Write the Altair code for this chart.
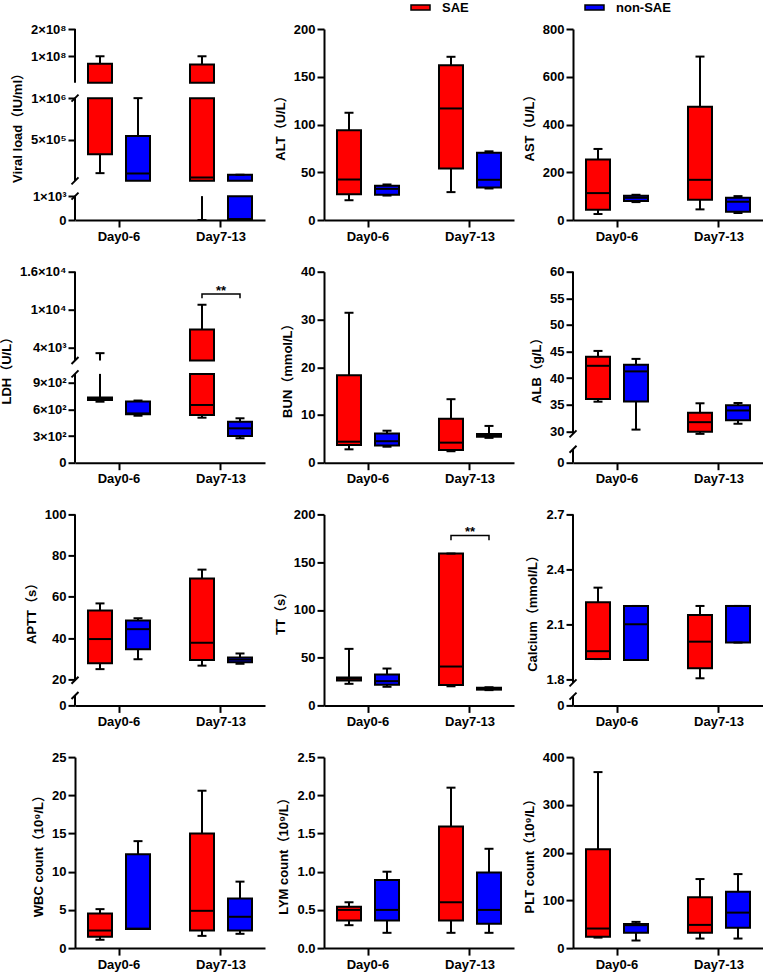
import altair as alt
import pandas as pd

# ---------------- data ----------------
days = ["Day0-6", "Day7-13"]
groups = ["SAE", "non-SAE"]
box_day = ["Day0-6", "Day0-6", "Day7-13", "Day7-13"]
box_group = ["SAE", "non-SAE", "SAE", "non-SAE"]

viral_min = [1.04e5, 5e3, 0, 0]
viral_q1 = [3.3e5, 1.25e4, 1.25e4, 0]
viral_med = [1.5e6, 1.0e5, 5.2e4, 40]
viral_q3 = [7.3e7, 5.48e5, 7.0e7, 8.5e4]
viral_max = [1e8, 1e6, 1e8, 8.5e4]

alt_min = [20.7, 25.6, 29.2, 33]
alt_q1 = [27, 26.5, 54, 34]
alt_med = [42.4, 32.6, 116.8, 42.1]
alt_q3 = [94, 35.8, 162, 70.5]
alt_max = [112.3, 37.2, 170.9, 71.9]

ast_min = [25, 75, 44.5, 29.2]
ast_q1 = [43, 79.3, 84.9, 34.8]
ast_med = [112.7, 93, 168.3, 76.5]
ast_q3 = [253, 101.4, 474.6, 93.2]
ast_max = [297.6, 105.6, 684.5, 100]

ldh_min = [687, 529, 507, 275]
ldh_q1 = [705, 545, 537, 300]
ldh_med = [720, 555, 650, 387]
ldh_q3 = [735, 690, 6900, 460]
ldh_max = [3160, 700, 10790, 500]

bun_min = [2.8, 3.35, 2.4, 5.2]
bun_q1 = [3.7, 3.6, 2.65, 5.45]
bun_med = [4.4, 4.5, 4.2, 5.7]
bun_q3 = [18.3, 6.1, 9.2, 6.0]
bun_max = [31.4, 6.7, 13.3, 7.7]

alb_min = [35.55, 30.3, 29.5, 31.4]
alb_q1 = [36.05, 35.6, 29.9, 32.05]
alb_med = [42.3, 41.25, 31.7, 33.9]
alb_q3 = [44.0, 42.5, 33.45, 34.9]
alb_max = [45.1, 43.6, 35.25, 35.3]

aptt_min = [24.9, 29.7, 26.6, 27.5]
aptt_q1 = [27.8, 34.6, 29.3, 28.3]
aptt_med = [39.5, 44.3, 37.7, 29.5]
aptt_q3 = [53.3, 48.5, 68.9, 30.5]
aptt_max = [56.8, 49.6, 73.2, 32.5]

tt_min = [22.6, 19.5, 20, 16]
tt_q1 = [26.1, 21.6, 21.3, 16.5]
tt_med = [27.9, 25.4, 40.7, 17.5]
tt_q3 = [29.2, 32.4, 159, 18.5]
tt_max = [59.2, 38.6, 159, 19]

ca_min = [1.91, 1.905, 1.805, 2.0]
ca_q1 = [1.91, 1.905, 1.86, 2.0]
ca_med = [1.953, 2.10, 2.005, 2.2]
ca_q3 = [2.22, 2.20, 2.15, 2.2]
ca_max = [2.30, 2.20, 2.20, 2.2]

wbc_min = [1.09, 2.5, 1.6, 1.87]
wbc_q1 = [1.48, 2.5, 2.3, 2.3]
wbc_med = [2.3, 2.55, 4.88, 4.1]
wbc_q3 = [4.53, 12.3, 15.0, 6.5]
wbc_max = [5.1, 14.0, 20.6, 8.7]

lym_min = [0.30, 0.2, 0.2, 0.2]
lym_q1 = [0.36, 0.36, 0.36, 0.32]
lym_med = [0.5, 0.5, 0.6, 0.5]
lym_q3 = [0.54, 0.89, 1.59, 0.99]
lym_max = [0.6, 1.0, 2.1, 1.3]

plt_min = [22, 15.9, 20, 20]
plt_q1 = [23.6, 32, 32, 42.4]
plt_med = [41, 48, 48.6, 74.3]
plt_q3 = [207.2, 50.7, 106.4, 118]
plt_max = [368.6, 54.9, 144.6, 155]

# ---------------- style ----------------
PW, PH = 190, 191
FONT = "Liberation Sans"
TFONT = "Liberation Sans, Noto Sans CJK SC"
COLORS = ["#FF0000", "#0000FF"]

panels = [
    dict(title="Viral load（IU/ml）", mn=viral_min, q1=viral_q1, md=viral_med, q3=viral_q3, mx=viral_max,
         domain=[0, 1e3, 1.2e4, 1e6, 2.5e6, 2e8], fracs=[0, 0.125, 0.205, 0.638, 0.718, 1.0],
         segments=[(0, 1e3), (1.2e4, 1e6), (2.5e6, 2e8)], slashes=[1e3, 1.2e4, 1e6],
         ticks=[0, 1e3, 5e5, 1e6, 1e8, 2e8], labels=["0", "1×10³", "5×10⁵", "1×10⁶", "1×10⁸", "2×10⁸"]),
    dict(title="ALT（U/L）", mn=alt_min, q1=alt_q1, md=alt_med, q3=alt_q3, mx=alt_max,
         domain=[0, 200], fracs=[0, 1], ticks=[0, 50, 100, 150, 200]),
    dict(title="AST（U/L）", mn=ast_min, q1=ast_q1, md=ast_med, q3=ast_q3, mx=ast_max,
         domain=[0, 800], fracs=[0, 1], ticks=[0, 200, 400, 600, 800]),
    dict(title="LDH（U/L）", mn=ldh_min, q1=ldh_q1, md=ldh_med, q3=ldh_q3, mx=ldh_max,
         domain=[0, 1000, 2000, 16000], fracs=[0, 0.465, 0.535, 1.0],
         segments=[(0, 1000), (2000, 16000)], slashes=[1000, 2000],
         ticks=[0, 300, 600, 900, 4000, 10000, 16000],
         labels=["0", "3×10²", "6×10²", "9×10²", "4×10³", "1×10⁴", "1.6×10⁴"],
         bracket=(11800, 12500)),
    dict(title="BUN（mmol/L）", mn=bun_min, q1=bun_q1, md=bun_med, q3=bun_q3, mx=bun_max,
         domain=[0, 40], fracs=[0, 1], ticks=[0, 10, 20, 30, 40]),
    dict(title="ALB（g/L）", mn=alb_min, q1=alb_q1, md=alb_med, q3=alb_q3, mx=alb_max,
         domain=[0, 2.5, 29.5, 60], fracs=[0, 0.07, 0.151, 1.0],
         segments=[(0, 2.5), (29.5, 60)], slashes=[2.5, 29.5],
         ticks=[0, 30, 35, 40, 45, 50, 55, 60]),
    dict(title="APTT（s）", mn=aptt_min, q1=aptt_q1, md=aptt_med, q3=aptt_q3, mx=aptt_max,
         domain=[0, 4, 19.5, 100], fracs=[0, 0.052, 0.1316, 1.0],
         segments=[(0, 4), (19.5, 100)], slashes=[4, 19.5],
         ticks=[0, 20, 40, 60, 80, 100]),
    dict(title="TT（s）", mn=tt_min, q1=tt_q1, md=tt_med, q3=tt_q3, mx=tt_max,
         domain=[0, 200], fracs=[0, 1], ticks=[0, 50, 100, 150, 200], bracket=(173, 178)),
    dict(title="Calcium（mmol/L）", mn=ca_min, q1=ca_q1, md=ca_med, q3=ca_q3, mx=ca_max,
         domain=[0, 0.1, 1.78, 2.7], fracs=[0, 0.0486, 0.118, 1.0],
         segments=[(0, 0.1), (1.78, 2.7)], slashes=[0.1, 1.78],
         ticks=[0, 1.8, 2.1, 2.4, 2.7], labels=["0", "1.8", "2.1", "2.4", "2.7"]),
    dict(title="WBC count（10⁹/L）", mn=wbc_min, q1=wbc_q1, md=wbc_med, q3=wbc_q3, mx=wbc_max,
         domain=[0, 25], fracs=[0, 1], ticks=[0, 5, 10, 15, 20, 25]),
    dict(title="LYM count（10⁹/L）", mn=lym_min, q1=lym_q1, md=lym_med, q3=lym_q3, mx=lym_max,
         domain=[0, 2.5], fracs=[0, 1], ticks=[0, 0.5, 1.0, 1.5, 2.0, 2.5],
         labels=["0.0", "0.5", "1.0", "1.5", "2.0", "2.5"]),
    dict(title="PLT count（10⁹/L）", mn=plt_min, q1=plt_q1, md=plt_med, q3=plt_q3, mx=plt_max,
         domain=[0, 400], fracs=[0, 1], ticks=[0, 100, 200, 300, 400]),
]


def build(p, legend=False):
    segs = p.get("segments") or [(p["domain"][0], p["domain"][-1])]
    broken = len(segs) > 1

    def inseg(v):
        return any(lo <= v <= hi for lo, hi in segs)

    boxes, whis, meds, caps = [], [], [], []
    for i in range(4):
        d, g = box_day[i], box_group[i]
        mn, q1, md, q3, mx = p["mn"][i], p["q1"][i], p["md"][i], p["q3"][i], p["mx"][i]
        for lo, hi in segs:
            a, b = max(q1, lo), min(q3, hi)
            if a < b:
                boxes.append({"day": d, "group": g, "lo": a, "hi": b})
            a, b = max(mn, lo), min(mx, hi)
            if a < b:
                whis.append({"day": d, "group": g, "lo": a, "hi": b})
        if inseg(md):
            meds.append({"day": d, "group": g, "lo": md})
        for v in (mn, mx):
            if inseg(v):
                caps.append({"day": d, "group": g, "lo": v})

    ticks = p["ticks"]
    labels = p.get("labels") or [str(int(t)) if float(t).is_integer() else str(t) for t in ticks]
    expr = "".join(f"abs(datum.value - {t}) < {abs(t) * 1e-6 + 1e-9} ? '{l}' : " for t, l in zip(ticks, labels)) + "''"

    yscale = alt.Scale(domain=p["domain"], range=[PH * (1 - f) for f in p["fracs"]], nice=False, zero=False)
    yaxis = alt.Axis(values=ticks, labelExpr=expr, title=p["title"], domain=not broken,
                     titlePadding=6, labelPadding=2)
    Y = alt.Y("lo:Q", scale=yscale, axis=yaxis)
    X = alt.X("day:N", sort=days,
              scale=alt.Scale(domain=days, paddingInner=0.2, paddingOuter=0.0314),
              axis=alt.Axis(title=None, labelAngle=0, labelPadding=3))
    XO = alt.XOffset("group:N", sort=groups,
                     scale=alt.Scale(domain=groups, paddingInner=0.053, paddingOuter=0.1))
    C = alt.Color("group:N", scale=alt.Scale(domain=groups, range=COLORS), legend=None)

    layers = []
    if broken:
        layers.append(alt.Chart(pd.DataFrame([{"lo": lo, "hi": hi} for lo, hi in segs]))
                      .mark_rule(color="black", strokeWidth=2)
                      .encode(x=alt.value(0), y=Y, y2="hi:Q"))
        layers.append(alt.Chart(pd.DataFrame({"lo": p["slashes"]}))
                      .mark_point(shape="M-1,1L1,-1", size=49, stroke="black", strokeWidth=2,
                                  filled=False, opacity=1)
                      .encode(x=alt.value(0), y=Y))
    layers.append(alt.Chart(pd.DataFrame(whis)).mark_rule(color="black", strokeWidth=2)
                  .encode(x=X, xOffset=XO, y=Y, y2="hi:Q"))
    layers.append(alt.Chart(pd.DataFrame(boxes)).mark_bar(size=24, stroke="black", strokeWidth=2, opacity=1)
                  .encode(x=X, xOffset=XO, y=Y, y2="hi:Q", color=C))
    layers.append(alt.Chart(pd.DataFrame(meds)).mark_tick(color="black", thickness=2, size=24,
                                                         orient="horizontal", opacity=1)
                  .encode(x=X, xOffset=XO, y=Y))
    layers.append(alt.Chart(pd.DataFrame(caps)).mark_tick(color="black", thickness=2, size=9,
                                                         orient="horizontal", opacity=1)
                  .encode(x=X, xOffset=XO, y=Y))
    if "bracket" in p:
        low, high = p["bracket"]
        bdf = pd.DataFrame({"day": ["Day7-13"] * 4, "group": ["SAE", "SAE", "non-SAE", "non-SAE"],
                            "lo": [low, high, high, low], "ord": [0, 1, 2, 3]})
        layers.append(alt.Chart(bdf).mark_line(color="black", strokeWidth=1.5)
                      .encode(x=X, xOffset=XO, y=Y, order="ord:Q"))
        layers.append(alt.Chart(pd.DataFrame({"day": ["Day7-13"], "lo": [high], "t": ["**"]}))
                      .mark_text(font=FONT, fontSize=13, fontWeight="bold", baseline="alphabetic",
                                 color="black", dy=1)
                      .encode(x=X, y=Y, text="t:N"))
    if legend:
        for i, (g, col) in enumerate(zip(groups, COLORS)):
            x0 = 87 + i * 174
            ldf = pd.DataFrame({"g": [g]})
            layers.append(alt.Chart(ldf).mark_rect(fill=col, stroke="black", strokeWidth=1.5)
                          .encode(x=alt.value(x0), x2=alt.value(x0 + 19), y=alt.value(-24), y2=alt.value(-19)))
            layers.append(alt.Chart(ldf).mark_text(font=FONT, fontSize=13, fontWeight="bold",
                                                    align="left", baseline="middle", color="black")
                          .encode(x=alt.value(x0 + 31), y=alt.value(-21.5), text="g:N"))
    return alt.layer(*layers).properties(width=PW, height=PH)


charts = [build(p, legend=(k == 1)) for k, p in enumerate(panels)]

chart = alt.concat(*charts, columns=3, spacing={"row": 51.7, "column": 59}, bounds="flush").properties(
    padding={"left": 0, "top": 1, "right": 0, "bottom": 0}
).configure_view(stroke=None).configure_axis(
    domainColor="black", domainWidth=2, tickColor="black", tickWidth=2, tickSize=7,
    labelFont=FONT, labelFontSize=13, labelFontWeight="bold", labelColor="black",
    titleFont=TFONT, titleFontSize=13, titleFontWeight="bold", titleColor="black",
    grid=False, labelFlush=False, labelOverlap=False, labelBound=False
)

chart.save("out.html", embed_options={"renderer": "svg", "actions": False})
